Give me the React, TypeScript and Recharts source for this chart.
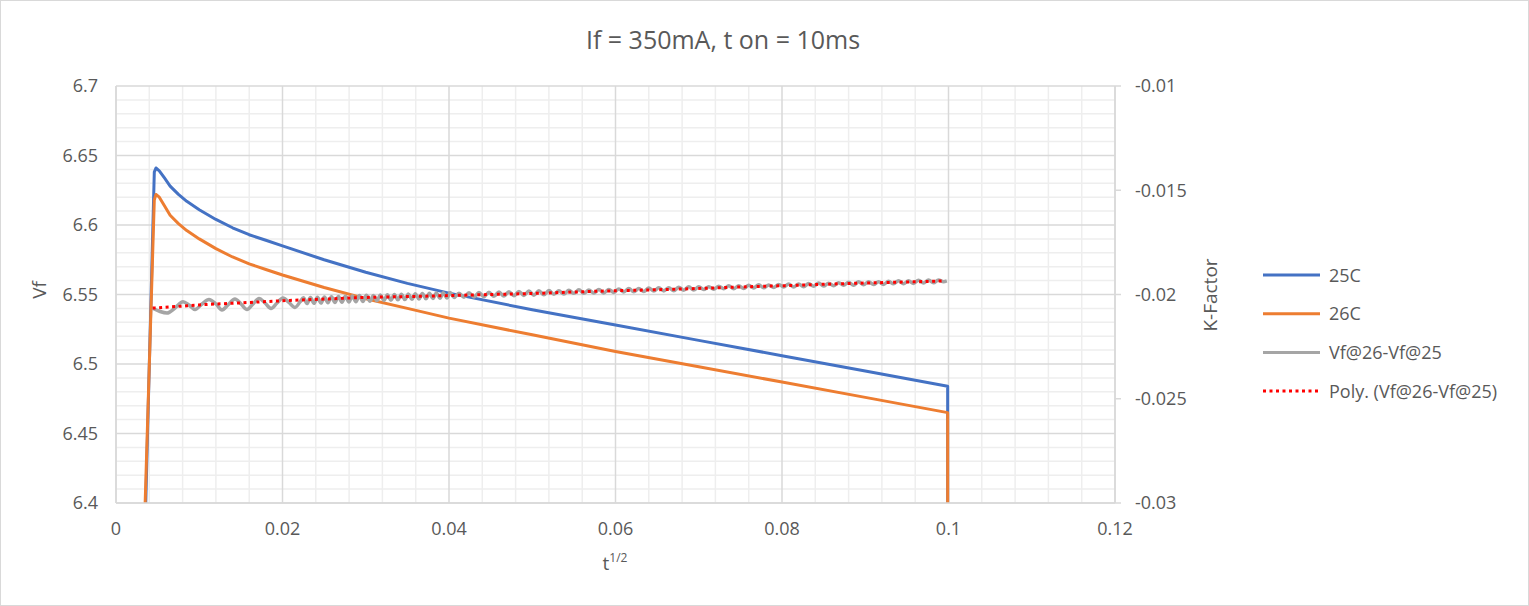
import { CartesianGrid, Line, LineChart, XAxis, YAxis } from 'recharts'

const FONT = '"Open Sans", "Liberation Sans", sans-serif'
const TEXT = '#595959'
const MAJOR = '#d9d9d9'
const MINOR = '#eeeeee'

// axis ticks
const xTicks = [0, 0.02, 0.04, 0.06, 0.08, 0.1, 0.12]
const xMinor = [
  0.004, 0.008, 0.012, 0.016, 0.024, 0.028, 0.032, 0.036, 0.044, 0.048, 0.052, 0.056,
  0.064, 0.068, 0.072, 0.076, 0.084, 0.088, 0.092, 0.096, 0.104, 0.108, 0.112, 0.116,
]
const vfTicks = [6.4, 6.45, 6.5, 6.55, 6.6, 6.65, 6.7]
const vfMinor = [
  6.41, 6.42, 6.43, 6.44, 6.46, 6.47, 6.48, 6.49, 6.51, 6.52, 6.53, 6.54, 6.56, 6.57, 6.58,
  6.59, 6.61, 6.62, 6.63, 6.64, 6.66, 6.67, 6.68, 6.69,
]
const kTicks = [-0.03, -0.025, -0.02, -0.015, -0.01]

// [t^1/2, Vf]
const vf25C: [number, number][] = [
  [0.0034, 6.36], [0.0046, 6.638], [0.0048, 6.641], [0.0052, 6.639], [0.0058, 6.634],
  [0.0065, 6.628], [0.0075, 6.622], [0.0085, 6.617], [0.01, 6.611], [0.012, 6.604],
  [0.014, 6.598], [0.016, 6.593], [0.018, 6.589], [0.02, 6.585], [0.025, 6.575],
  [0.03, 6.566], [0.035, 6.558], [0.04, 6.551], [0.05, 6.539], [0.06, 6.528],
  [0.07, 6.517], [0.08, 6.506], [0.09, 6.495], [0.0999, 6.484], [0.0999, 6.3],
]
const vf26C: [number, number][] = [
  [0.0033, 6.36], [0.0046, 6.618], [0.0048, 6.622], [0.0052, 6.62], [0.0058, 6.614],
  [0.0065, 6.607], [0.0075, 6.601], [0.0085, 6.596], [0.01, 6.59], [0.012, 6.583],
  [0.014, 6.577], [0.016, 6.572], [0.018, 6.568], [0.02, 6.564], [0.025, 6.555],
  [0.03, 6.547], [0.035, 6.54], [0.04, 6.533], [0.05, 6.521], [0.06, 6.509],
  [0.07, 6.498], [0.08, 6.487], [0.09, 6.476], [0.0999, 6.465], [0.0999, 6.3],
]

// [t^1/2, Vf@26-Vf@25] on the K-Factor axis
const kDiff: [number, number][] = [
  [0.00441, -0.020661], [0.00529, -0.020815], [0.00613, -0.020887], [0.00709, -0.020647],
  [0.00805, -0.020345], [0.00877, -0.020503], [0.00949, -0.020719], [0.01033, -0.020455],
  [0.01117, -0.020239], [0.01201, -0.020455], [0.01273, -0.020743], [0.01345, -0.020503],
  [0.01429, -0.020215], [0.01502, -0.020455], [0.01574, -0.020719], [0.01646, -0.020455],
  [0.01718, -0.020191], [0.0179, -0.020407], [0.01862, -0.020671], [0.01934, -0.020407],
  [0.02006, -0.020168], [0.02078, -0.020383], [0.0215, -0.020623], [0.0221, -0.020359],
  [0.02252, -0.020156], [0.02294, -0.020437], [0.02336, -0.020143], [0.02378, -0.020424],
  [0.0242, -0.02013], [0.02462, -0.020412], [0.02504, -0.020117], [0.02546, -0.020399],
  [0.02588, -0.020104], [0.0263, -0.020386], [0.02672, -0.020092], [0.02714, -0.020373],
  [0.02756, -0.020079], [0.02798, -0.02036], [0.0284, -0.020066], [0.02882, -0.020348],
  [0.02924, -0.020053], [0.02966, -0.020335], [0.03008, -0.02004], [0.0305, -0.020322],
  [0.03092, -0.020042], [0.03134, -0.020295], [0.03176, -0.020029], [0.03218, -0.020282],
  [0.0326, -0.020016], [0.03302, -0.02027], [0.03344, -0.020003], [0.03386, -0.020257],
  [0.03428, -0.01999], [0.0347, -0.020244], [0.03512, -0.019978], [0.03554, -0.020231],
  [0.03596, -0.019965], [0.03638, -0.020218], [0.0368, -0.019952], [0.03722, -0.020206],
  [0.03764, -0.019939], [0.03806, -0.020193], [0.03848, -0.019926], [0.0389, -0.02018],
  [0.03932, -0.019914], [0.03974, -0.020167], [0.04016, -0.019901],
  [0.0406, -0.020143], [0.0412, -0.019936], [0.0418, -0.020129], [0.0424, -0.019922],
  [0.043, -0.020115], [0.0436, -0.019908], [0.0442, -0.020101], [0.0448, -0.019894],
  [0.0454, -0.020087], [0.046, -0.01988], [0.0466, -0.020073], [0.0472, -0.019866],
  [0.0478, -0.020059], [0.0484, -0.019852], [0.049, -0.020045], [0.0496, -0.019838],
  [0.0502, -0.020031], [0.0508, -0.019824], [0.0514, -0.020017], [0.052, -0.01981],
  [0.0526, -0.019983], [0.0532, -0.019826], [0.0538, -0.019979], [0.0544, -0.019802],
  [0.055, -0.019945], [0.0556, -0.019778], [0.0562, -0.019941], [0.0568, -0.019784],
  [0.0574, -0.019927], [0.058, -0.01976], [0.0586, -0.019923], [0.0592, -0.019756],
  [0.0598, -0.019899], [0.0604, -0.019732], [0.061, -0.019875], [0.0616, -0.019708],
  [0.0622, -0.019871], [0.0628, -0.019714], [0.0634, -0.019857], [0.064, -0.01969],
  [0.0646, -0.019833], [0.0652, -0.019676], [0.0658, -0.019829], [0.0664, -0.019672],
  [0.067, -0.019825], [0.0676, -0.019648], [0.0682, -0.019791], [0.0688, -0.019634],
  [0.0694, -0.019787], [0.07, -0.01963], [0.0706, -0.019763], [0.0712, -0.019626],
  [0.0718, -0.019749], [0.0724, -0.019602], [0.073, -0.019725], [0.0736, -0.019578],
  [0.0742, -0.019721], [0.0748, -0.019584], [0.0754, -0.019707], [0.076, -0.01956],
  [0.0766, -0.019683], [0.0772, -0.019536], [0.0778, -0.019679], [0.0784, -0.019542],
  [0.079, -0.019665], [0.0796, -0.019518], [0.0802, -0.019641], [0.0808, -0.019494],
  [0.0814, -0.019637], [0.082, -0.0195], [0.0826, -0.019623], [0.0832, -0.019476],
  [0.0838, -0.019599], [0.0844, -0.019452], [0.085, -0.019595], [0.0856, -0.019458],
  [0.0862, -0.019581], [0.0868, -0.019434], [0.0874, -0.019557], [0.088, -0.01941],
  [0.0886, -0.019553], [0.0892, -0.019386], [0.0898, -0.019529], [0.0904, -0.019392],
  [0.091, -0.019525], [0.0916, -0.019388], [0.0922, -0.019521], [0.0928, -0.019364],
  [0.0934, -0.019487], [0.094, -0.01934], [0.0946, -0.019483], [0.0952, -0.019346],
  [0.0958, -0.019469], [0.0964, -0.019312], [0.097, -0.019445], [0.0976, -0.019308],
  [0.0982, -0.019441], [0.0988, -0.019304], [0.0994, -0.019387], [0.0998, -0.01935],
]

// polynomial trendline of kDiff
const kTrend: [number, number][] = [
  [0.0044, -0.02065], [0.0075, -0.02057], [0.01, -0.0205], [0.015, -0.0204],
  [0.02, -0.0203], [0.025, -0.02022], [0.03, -0.02014], [0.035, -0.0201],
  [0.04, -0.02005], [0.045, -0.02], [0.05, -0.01995], [0.055, -0.01988],
  [0.06, -0.01982], [0.065, -0.01977], [0.07, -0.01971], [0.075, -0.01964],
  [0.08, -0.01958], [0.085, -0.01951], [0.09, -0.01945], [0.095, -0.0194],
  [0.0995, -0.01935],
]

const toRows = (pts: [number, number][]) => pts.map(([x, v]) => ({ x, v }))

const legendItems = [
  { name: '25C', color: '#4472C4', dash: undefined },
  { name: '26C', color: '#ED7D31', dash: undefined },
  { name: 'Vf@26-Vf@25', color: '#A5A5A5', dash: undefined },
  { name: 'Poly. (Vf@26-Vf@25)', color: '#FF0000', dash: '3 3.5' },
]

const tickStyle = { fill: TEXT, fontSize: 18, fontFamily: FONT }

export default function App() {
  return (
    <div
      style={{
        position: 'absolute',
        left: 0,
        top: 0,
        width: 1529,
        height: 606,
        background: '#fff',
        border: '1px solid #d9d9d9',
        boxSizing: 'border-box',
        fontFamily: FONT,
      }}
    >
      <LineChart
        width={1527}
        height={604}
        margin={{ top: 85, right: 333, bottom: 62, left: 55 }}
        style={{ position: 'absolute', left: 0, top: 0 }}
      >
        <CartesianGrid
          yAxisId="vf"
          stroke={MINOR}
          strokeWidth={1.5}
          verticalValues={xMinor}
          horizontalValues={vfMinor}
        />
        <CartesianGrid
          yAxisId="vf"
          stroke={MAJOR}
          strokeWidth={1.5}
          verticalValues={xTicks}
          horizontalValues={vfTicks}
        />
        <XAxis
          dataKey="x"
          type="number"
          domain={[0, 0.12]}
          ticks={xTicks}
          interval={0}
          allowDataOverflow
          height={40}
          axisLine={{ stroke: MAJOR, strokeWidth: 1.5 }}
          tickLine={false}
          tickSize={6}
          tickMargin={13}
          tick={tickStyle}
        />
        <YAxis
          yAxisId="vf"
          type="number"
          domain={[6.4, 6.7]}
          ticks={vfTicks}
          interval={0}
          allowDataOverflow
          width={60}
          axisLine={{ stroke: MAJOR, strokeWidth: 1.5 }}
          tickLine={false}
          tickSize={6}
          tickMargin={12}
          tick={tickStyle}
        />
        <YAxis
          yAxisId="k"
          orientation="right"
          type="number"
          domain={[-0.03, -0.01]}
          ticks={kTicks}
          interval={0}
          allowDataOverflow
          width={80}
          axisLine={{ stroke: MAJOR, strokeWidth: 1.5 }}
          tickLine={{ stroke: MAJOR, strokeWidth: 1.5 }}
          tickSize={6}
          tickMargin={14}
          tick={tickStyle}
        />
        <Line
          yAxisId="vf"
          data={toRows(vf25C)}
          dataKey="v"
          name="25C"
          type="linear"
          stroke="#4472C4"
          strokeWidth={3}
          strokeLinejoin="round"
          dot={false}
          isAnimationActive={false}
        />
        <Line
          yAxisId="vf"
          data={toRows(vf26C)}
          dataKey="v"
          name="26C"
          type="linear"
          stroke="#ED7D31"
          strokeWidth={3}
          strokeLinejoin="round"
          dot={false}
          isAnimationActive={false}
        />
        <Line
          yAxisId="k"
          data={toRows(kDiff)}
          dataKey="v"
          name="Vf@26-Vf@25"
          type="monotone"
          stroke="#A5A5A5"
          strokeWidth={3.5}
          dot={false}
          isAnimationActive={false}
        />
        <Line
          yAxisId="k"
          data={toRows(kTrend)}
          dataKey="v"
          name="Poly. (Vf@26-Vf@25)"
          type="monotone"
          stroke="#FF0000"
          strokeWidth={3}
          strokeDasharray="3 3.5"
          dot={false}
          isAnimationActive={false}
        />
      </LineChart>

      <svg
        width={1527}
        height={604}
        style={{ position: 'absolute', left: 0, top: 0, pointerEvents: 'none' }}
        fontFamily={FONT}
        fill={TEXT}
      >
        <text x={722} y={48} textAnchor="middle" fontSize={25}>
          If = 350mA, t on = 10ms
        </text>
        <text transform="translate(45,289) rotate(-90)" textAnchor="middle" fontSize={19}>
          Vf
        </text>
        <text transform="translate(1216,294) rotate(-90)" textAnchor="middle" fontSize={19}>
          K-Factor
        </text>
        <text x={614} y={569} textAnchor="middle" fontSize={19}>
          t
          <tspan dy={-8} fontSize={12}>
            1/2
          </tspan>
        </text>
        {legendItems.map((s, i) => {
          const y = 274 + i * 38.7
          return (
            <g key={s.name}>
              <line
                x1={1262}
                x2={1319}
                y1={y}
                y2={y}
                stroke={s.color}
                strokeWidth={3}
                strokeDasharray={s.dash}
              />
              <text x={1328} y={y + 6.5} fontSize={18}>
                {s.name}
              </text>
            </g>
          )
        })}
      </svg>
    </div>
  )
}
